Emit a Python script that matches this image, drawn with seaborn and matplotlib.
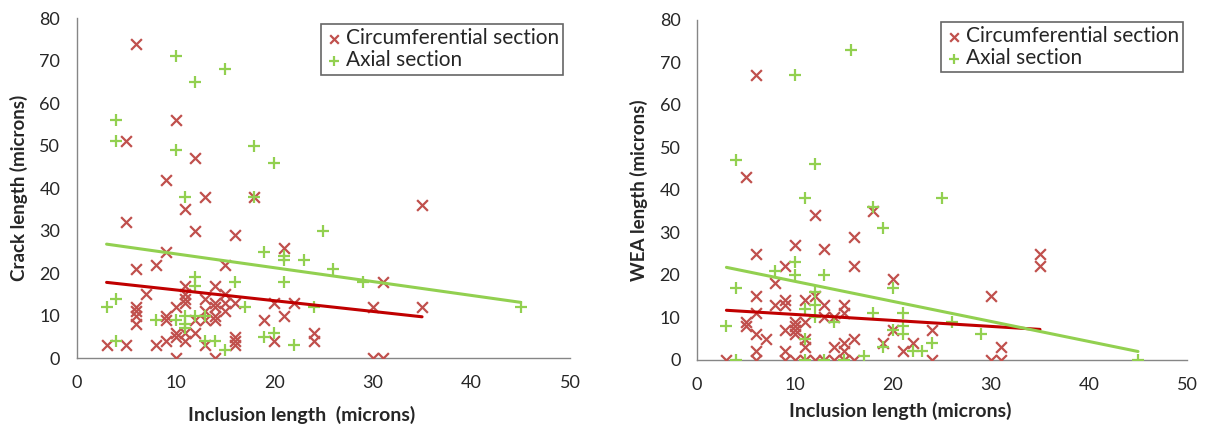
import matplotlib
matplotlib.use("Agg")
import matplotlib.pyplot as plt
import seaborn as sns
import pandas as pd

# crack length panel - circumferential section (x markers)
crack_circ_x = [6, 10, 5, 12, 9, 13, 18, 11, 5, 12, 16, 21, 9, 8, 6, 15, 35, 31, 30, 35,
                30, 31, 7, 11, 14, 6, 6, 6, 6, 3, 5, 8, 9, 9, 9, 10, 10, 10, 10, 11,
                11, 11, 11, 11, 12, 13, 13, 13, 14, 14, 14, 14, 15, 15, 15, 16, 16, 16, 16, 19,
                20, 20, 21, 22, 24, 24, 12, 14, 13]
crack_circ_y = [74, 56, 51, 47, 42, 38, 38, 35, 32, 30, 29, 26, 25, 22, 21, 22, 36, 18, 12, 12,
                0, 0, 15, 17, 17, 12, 11, 10, 8, 3, 3, 3, 4, 10, 9, 12, 6, 5, 0, 15,
                13, 14, 6, 4, 9, 14, 3, 9, 0, 12, 10, 9, 15, 13, 11, 13, 5, 4, 3, 9,
                13, 4, 10, 13, 6, 4, 6, 13, 11]

# crack length panel - axial section (+ markers)
crack_axial_x = [10, 15, 12, 4, 4, 10, 18, 20, 11, 18, 25, 19, 21, 21, 23, 26, 12, 12, 16, 21,
                 29, 4, 3, 17, 24, 45, 8, 10, 11, 12, 13, 11, 11, 4, 13, 14, 15, 19, 20, 22]
crack_axial_y = [71, 68, 65, 56, 51, 49, 50, 46, 38, 38, 30, 25, 24, 23, 23, 21, 19, 17, 18, 18,
                 18, 14, 12, 12, 12, 12, 9, 9, 10, 10, 10, 8, 7, 4, 4, 4, 2, 5, 6, 3]

# WEA length panel - circumferential section
wea_circ_x = [6, 5, 12, 18, 16, 10, 13, 6, 9, 16, 20, 8, 12, 6, 9, 9, 8, 11, 15, 13,
              6, 15, 5, 5, 10, 10, 10, 10, 9, 11, 13, 14, 6, 7, 11, 16, 15, 14, 19, 20,
              21, 22, 24, 24, 3, 6, 6, 9, 9, 10, 11, 12, 13, 14, 15, 16, 11, 15, 35, 35,
              30, 31, 30, 31]
wea_circ_y = [67, 43, 34, 35, 29, 27, 26, 25, 22, 22, 19, 18, 15, 15, 14, 13, 13, 14, 13, 13,
              11, 11, 9, 8, 9, 8, 7, 6, 7, 9, 10, 10, 6, 5, 5, 5, 4, 3, 4, 7,
              2, 4, 7, 0, 0, 2, 0, 2, 0, 0, 0, 0, 0, 0, 0, 0, 3, 2, 25, 22,
              15, 3, 0, 0]

# WEA length panel - axial section
wea_axial_x = [15.7, 10, 4, 12, 11, 18, 19, 25, 10, 8, 10, 13, 4, 12, 20, 11, 12, 12, 14, 18,
               21, 21, 21, 20, 3, 11, 19, 24, 22, 23, 17, 4, 11, 13, 15, 26, 29, 45]
wea_axial_y = [73, 67, 47, 46, 38, 36, 31, 38, 23, 21, 20, 20, 17, 16, 17, 12, 13, 10, 9, 11,
               11, 8, 6, 7, 8, 5, 3, 4, 2, 2, 1, 0, 0, 0, 0, 9, 6, 0]

# linear trend lines as drawn in the original (end points)
crack_circ_trend_x = [3, 35]
crack_circ_trend_y = [17.8, 9.7]
crack_axial_trend_x = [3, 45]
crack_axial_trend_y = [26.8, 13.1]
wea_circ_trend_x = [3, 35]
wea_circ_trend_y = [11.7, 7.2]
wea_axial_trend_x = [3, 45]
wea_axial_trend_y = [21.8, 2.0]

x_ticks = [0, 10, 20, 30, 40, 50]
y_ticks = [0, 10, 20, 30, 40, 50, 60, 70, 80]

circ_label = "Circumferential section"
axial_label = "Axial section"

RED_MARK = "#C0504D"
RED_LINE = "#C00000"
GREEN = "#92D050"
GREY = "#868686"

sns.set_style("white")
plt.rcParams["font.family"] = ["Lato", "DejaVu Sans"]


def draw_panel(ax, cx, cy, axx, axy, ctx, cty, atx, aty, xlabel, ylabel,
               leg_anchor, xlab_pos, ylab_x):
    circ = pd.DataFrame({"x": cx, "y": cy})
    axial = pd.DataFrame({"x": axx, "y": axy})
    sns.scatterplot(data=circ, x="x", y="y", ax=ax, marker="x", color=RED_MARK,
                    s=60, linewidth=1.6, label=circ_label, zorder=3)
    sns.scatterplot(data=axial, x="x", y="y", ax=ax, marker="+", color=GREEN,
                    s=75, linewidth=1.6, label=axial_label, zorder=3)
    sns.lineplot(x=ctx, y=cty, ax=ax, color=RED_LINE, linewidth=2.2, zorder=4)
    sns.lineplot(x=atx, y=aty, ax=ax, color=GREEN, linewidth=2.2, zorder=4)

    ax.set_xlim(0, 50)
    ax.set_ylim(0, 80)
    ax.set_xticks(x_ticks)
    ax.set_yticks(y_ticks)
    ax.tick_params(axis="both", direction="out", length=6, width=1, color=GREY,
                   labelsize=13, labelcolor="#262626", pad=6)
    for side in ["top", "right"]:
        ax.spines[side].set_visible(False)
    for side in ["left", "bottom"]:
        ax.spines[side].set_color(GREY)
        ax.spines[side].set_linewidth(1)

    ax.set_xlabel(xlabel, fontsize=14, fontweight="bold")
    ax.set_ylabel(ylabel, fontsize=13.5, fontweight="bold")
    ax.xaxis.set_label_coords(xlab_pos[0], xlab_pos[1])
    ax.yaxis.set_label_coords(ylab_x, 0.5)

    leg = ax.legend(loc="upper right", bbox_to_anchor=leg_anchor, borderaxespad=0,
                    frameon=True, fancybox=False, fontsize=15, handletextpad=0.1,
                    handlelength=0.9, borderpad=0.2, labelspacing=0.1,
                    markerscale=0.8)
    leg.get_frame().set_edgecolor("#404040")
    leg.get_frame().set_linewidth(1.2)


fig = plt.figure(figsize=(12.07, 4.30), dpi=100)
ax1 = fig.add_axes([0.0638, 0.1674, 0.4084, 0.7906])
ax2 = fig.add_axes([0.5775, 0.1628, 0.4059, 0.7907])

draw_panel(ax1, crack_circ_x, crack_circ_y, crack_axial_x, crack_axial_y,
           crack_circ_trend_x, crack_circ_trend_y, crack_axial_trend_x, crack_axial_trend_y,
           "Inclusion length  (microns)", "Crack length (microns)",
           (0.986, 0.982), (0.456, -0.141), -0.099)
draw_panel(ax2, wea_circ_x, wea_circ_y, wea_axial_x, wea_axial_y,
           wea_circ_trend_x, wea_circ_trend_y, wea_axial_trend_x, wea_axial_trend_y,
           "Inclusion length (microns)", "WEA length (microns)",
           (0.992, 0.994), (0.414, -0.124), -0.10)

fig.savefig("out.png", dpi=100)
